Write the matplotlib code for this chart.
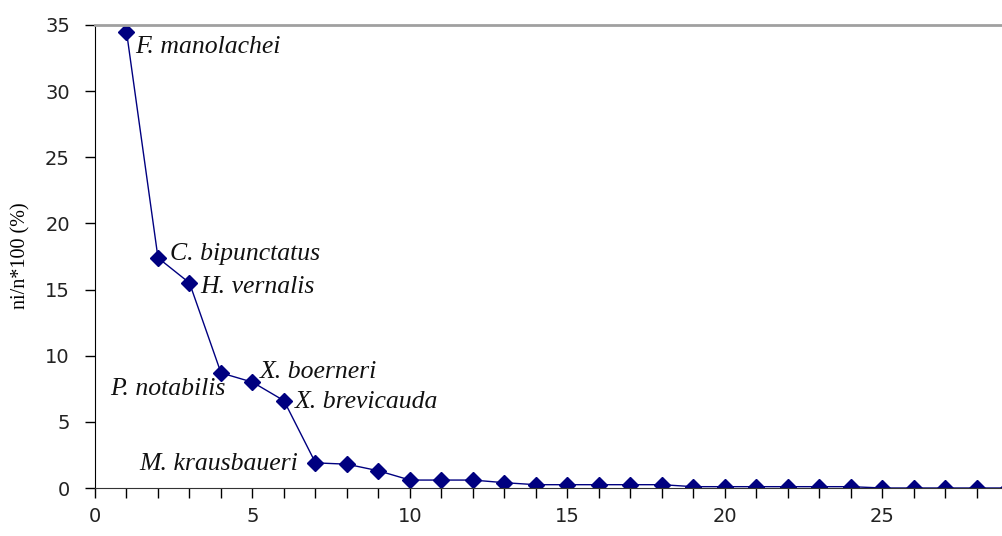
import matplotlib
matplotlib.use('Agg')
import matplotlib.pyplot as plt
from matplotlib.ticker import MultipleLocator

# datos
rank = list(range(1, 30))
pct = [34.5, 17.4, 15.5, 8.7, 8.0, 6.6, 1.9, 1.8, 1.3, 0.6,
       0.6, 0.6, 0.4, 0.25, 0.25, 0.25, 0.25, 0.25, 0.1, 0.1,
       0.1, 0.1, 0.1, 0.1, 0.0, 0.0, 0.0, 0.0, 0.0]

species = ['F. manolachei', 'C. bipunctatus', 'H. vernalis', 'P. notabilis',
           'X. boerneri', 'X. brevicauda', 'M. krausbaueri']
label_x = [1.27, 2.38, 3.33, 4.13, 5.24, 6.35, 6.45]
label_y = [33.3, 17.7, 15.2, 7.5, 8.8, 6.5, 1.8]
label_ha = ['left', 'left', 'left', 'right', 'left', 'left', 'right']

fig = plt.figure(figsize=(10.03, 5.36), dpi=100)
ax = fig.add_axes([95 / 1003, 48 / 536, 908 / 1003, 463 / 536])

ax.plot(rank, pct, color='#000080', linewidth=1.0, marker='D',
        markersize=8, markerfacecolor='#000080', markeredgecolor='#000080')

for name, lx, ly, ha in zip(species, label_x, label_y, label_ha):
    ax.text(lx, ly, name, ha=ha, va='center', fontsize=18.5,
            family='Liberation Serif', style='italic', color='#111111')

ax.set_xlim(0, 908 / 31.5)
ax.set_ylim(0, 35)

ax.xaxis.set_major_locator(MultipleLocator(5))
ax.xaxis.set_minor_locator(MultipleLocator(1))
ax.yaxis.set_major_locator(MultipleLocator(5))

ax.tick_params(axis='x', which='both', direction='out', length=7, width=1,
               color='black', pad=7)
ax.tick_params(axis='y', which='major', direction='out', length=7, width=1,
               color='black', pad=11)
for lab in ax.get_xticklabels() + ax.get_yticklabels():
    lab.set_fontsize(14)
    lab.set_family('DejaVu Sans')
    lab.set_color('#222222')

ax.spines['right'].set_visible(False)
ax.spines['top'].set_color('#a0a0a0')
ax.spines['top'].set_linewidth(2)
ax.spines['left'].set_color('black')
ax.spines['bottom'].set_color('#333333')

ax.set_ylabel('ni/n*100 (%)', fontsize=14.5, family='Liberation Serif',
              va='center')
ax.yaxis.set_label_coords(-74 / 908, (488 - 256) / 463)

plt.savefig('out.png', dpi=100)
